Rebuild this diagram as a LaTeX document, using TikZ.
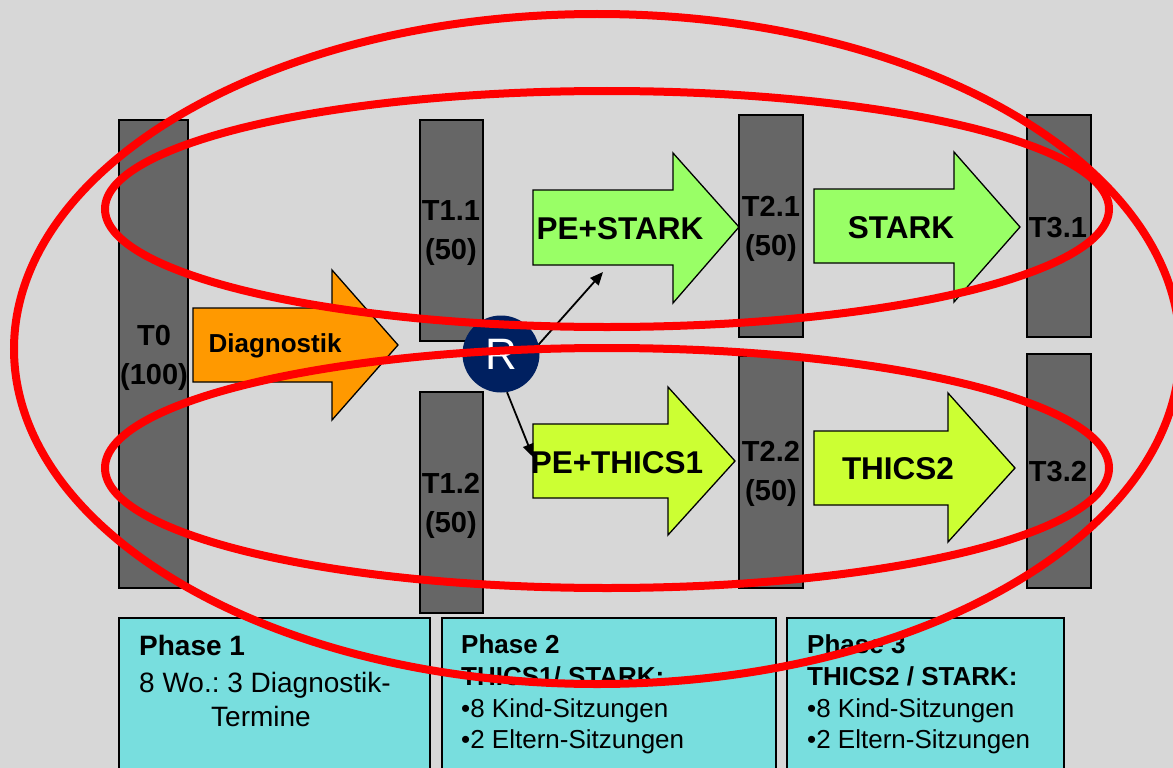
\documentclass[tikz,border=0pt]{standalone}
\usepackage{fontspec}
\setmainfont{Liberation Sans}
\usetikzlibrary{arrows.meta}
\frenchspacing
\definecolor{bgc}{HTML}{D7D7D7}
\definecolor{barc}{HTML}{666666}
\definecolor{boxc}{HTML}{78DEDE}
\definecolor{orangec}{HTML}{FF9900}
\definecolor{greenc}{HTML}{99FF66}
\definecolor{limec}{HTML}{CCFF33}
\definecolor{navyc}{HTML}{002060}
\definecolor{ringred}{HTML}{FF0000}
\begin{document}
\begin{tikzpicture}[x=1pt,y=-1pt,
  bar/.style={draw=black, fill=barc, line width=1.3pt, inner sep=0pt, outer sep=0pt, anchor=north west},
  barlabel/.style={font=\bfseries\fontsize{29}{39}\selectfont, align=center, inner sep=0pt},
  blockarrow/.style={draw=black, line width=1.3pt, line join=miter},
  arrowlabel/.style={font=\bfseries\fontsize{31.5}{36}\selectfont, inner sep=0pt},
  phasebox/.style={draw=black, fill=boxc, line width=1.3pt, inner sep=0pt, outer sep=0pt, anchor=north west},
  boxtitle/.style={font=\bfseries\fontsize{26}{30}\selectfont, anchor=base west, inner sep=0pt},
  boxtext/.style={font=\fontsize{26}{30}\selectfont, anchor=base west, inner sep=0pt},
  conn/.style={draw=black, line width=1.8pt, -{Triangle[length=13pt,width=11pt]}},
  ring/.style={draw=ringred, line width=8pt}
]
\useasboundingbox (0,0) rectangle (1173,768);
\fill[bgc] (0,0) rectangle (1173,768);
\clip (0,0) rectangle (1173,768);

% time-point bars
\node[bar, minimum width=69pt, minimum height=468pt] (T0) at (119,120) {};
\node[bar, minimum width=63pt, minimum height=221pt] (T11) at (420,120) {};
\node[bar, minimum width=63pt, minimum height=221pt] (T12) at (420,392) {};
\node[bar, minimum width=64pt, minimum height=222pt] (T21) at (739,115) {};
\node[bar, minimum width=64pt, minimum height=232pt] (T22) at (739,356) {};
\node[bar, minimum width=64pt, minimum height=222pt] (T31) at (1027,115) {};
\node[bar, minimum width=64pt, minimum height=234pt] (T32) at (1027,354) {};

% phase boxes
\node[phasebox, minimum width=311pt, minimum height=170pt] (P1) at (119,618) {};
\node[phasebox, minimum width=334pt, minimum height=170pt] (P2) at (442,618) {};
\node[phasebox, minimum width=277pt, minimum height=170pt] (P3) at (787,618) {};

% block arrows
\draw[blockarrow, fill=orangec] (193,308) -- (332,308) -- (332,270) -- (398,345) -- (332,420) -- (332,382) -- (193,382) -- cycle;
\draw[blockarrow, fill=greenc] (533,190) -- (673,190) -- (673,153) -- (739,227) -- (673,303) -- (673,265) -- (533,265) -- cycle;
\draw[blockarrow, fill=greenc] (814,189) -- (954,189) -- (954,152) -- (1020,227) -- (954,302) -- (954,263) -- (814,263) -- cycle;
\draw[blockarrow, fill=limec] (533,424) -- (668,424) -- (668,387) -- (735,461) -- (668,535) -- (668,498) -- (533,498) -- cycle;
\draw[blockarrow, fill=limec] (814,431) -- (948,431) -- (948,393) -- (1015,468) -- (948,542) -- (948,505) -- (814,505) -- cycle;

\node[font=\bfseries\fontsize{26}{30}\selectfont, inner sep=0pt] (Ldiag) at (275,346) {Diagnostik};
\node[arrowlabel] (Lpes) at (620,229) {PE+STARK};
\node[arrowlabel] (Lstark) at (901,228) {STARK};
\node[arrowlabel] (Lpet) at (617,463) {PE+THICS1};
\node[arrowlabel] (Lthics) at (898,469) {THICS2};

% bar labels
\node[barlabel] (T0l) at (154,358) {T0\\(100)};
\node[barlabel] (T11l) at (451,233) {T1.1\\(50)};
\node[barlabel] (T12l) at (451,506) {T1.2\\(50)};
\node[barlabel] (T21l) at (771,229) {T2.1\\(50)};
\node[barlabel] (T22l) at (771,474) {T2.2\\(50)};
\node[barlabel] (T31l) at (1058,228) {T3.1};
\node[barlabel] (T32l) at (1058,472) {T3.2};

% randomisation
\node[circle, fill=navyc, minimum size=77pt, inner sep=0pt, text=white, font=\fontsize{44}{44}\selectfont] (R) at (501,354) {R};
\coordinate (tipA) at (603,272);
\coordinate (tipB) at (533,457);
\draw[conn] (R.14) -- (tipA);
\draw[conn] (R.-81) -- (tipB);

% phase texts
\node[boxtitle, font=\bfseries\fontsize{28}{32}\selectfont] (P1a) at (139,655) {Phase 1};
\node[boxtext, font=\fontsize{28}{32}\selectfont] (P1b) at (139,692) {8 Wo.: 3 Diagnostik-};
\node[boxtext, font=\fontsize{28}{32}\selectfont] (P1c) at (211,726) {Termine};

\node[boxtitle] (P2a) at (461,653) {Phase 2};
\node[boxtitle] (P2b) at (461,685) {THICS1/ STARK:};
\node[boxtext] (P2c) at (461,717) {•8 Kind-Sitzungen};
\node[boxtext] (P2d) at (461,748) {•2 Eltern-Sitzungen};

\node[boxtitle] (P3a) at (807,653) {Phase 3};
\node[boxtitle] (P3b) at (807,685) {THICS2 / STARK:};
\node[boxtext] (P3c) at (807,717) {•8 Kind-Sitzungen};
\node[boxtext] (P3d) at (807,748) {•2 Eltern-Sitzungen};

% red ellipses
\draw[ring] (597,349) ellipse [x radius=583pt, y radius=335pt];
\draw[ring] (607,209) ellipse [x radius=502pt, y radius=118pt];
\draw[ring] (607,468) ellipse [x radius=502pt, y radius=120pt];
\end{tikzpicture}
\end{document}
